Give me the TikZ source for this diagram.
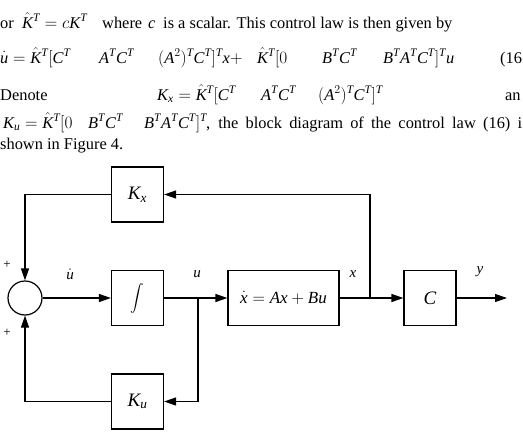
\documentclass[tikz,border=0pt]{standalone}
\usepackage{amsmath}
\usepackage{fontspec}
\setmainfont{Liberation Serif}
\usetikzlibrary{arrows.meta}
\newcommand{\I}[1]{\mathit{#1}}
\newcommand{\Kh}{\hat{\I{K}}}
\newcommand{\Tr}{^{\I{T}}}
\begin{document}
\begin{tikzpicture}[x=1pt,y=-1pt,
  txt/.style={anchor=base west, inner sep=0pt, font=\fontsize{16.4}{19}\selectfont},
  blk/.style={draw, line width=1.2pt, minimum width=52pt, minimum height=55pt, inner sep=0pt, font=\fontsize{19}{21}\selectfont},
  lbl/.style={inner sep=0pt, font=\fontsize{15}{17}\selectfont},
  sig/.style={line width=1.2pt, -{Triangle[length=12pt,width=8pt]}},
  wire/.style={line width=1.2pt}]
\useasboundingbox (0,0) rectangle (523,434);

% text above the figure
\node[txt] (t1a) at (0,28) {or};
\node[txt] (t1b) at (22,28) {$\Kh\Tr = c\I{K}\Tr$};
\node[txt] (t1c) at (102,28) {where};
\node[txt] (t1d) at (148,28) {$\I{c}$};
\node[txt] (t1e) at (163,28) {is a scalar. This control law is then given by};

\node[txt] (t2a) at (0,63) {$\dot{\I u}=\Kh\Tr[\I C\Tr$};
\node[txt] (t2b) at (99,63) {$\I A\Tr \I C\Tr$};
\node[txt] (t2c) at (158,63) {$(\I A^2)\Tr \I C\Tr]\Tr \I x +$};
\node[txt] (t2d) at (257,63) {$\Kh\Tr[0$};
\node[txt] (t2e) at (322,63) {$\I B\Tr \I C\Tr$};
\node[txt] (t2f) at (383,63) {$\I B\Tr \I A\Tr \I C\Tr]\Tr \I u$};
\node[txt] (t2g) at (500,63) {(16};

\node[txt] (t3a) at (0,100) {Denote};
\node[txt] (t3b) at (157,100) {$\I K_{\I x} = \Kh\Tr[\I C\Tr$};
\node[txt] (t3c) at (261,100) {$\I A\Tr \I C\Tr$};
\node[txt] (t3d) at (318,100) {$(\I A^2)\Tr \I C\Tr]\Tr$};
\node[txt] (t3e) at (505,100) {an};

\node[txt] (t4a) at (3,128) {$\I K_{\I u} = \Kh\Tr[0$};
\node[txt] (t4b) at (88,128) {$\I B\Tr \I C\Tr$};
\node[txt] (t4c) at (144,128) {$\I B\Tr \I A\Tr \I C\Tr]\Tr$};
\node[txt] (t4d) at (206,128) {\makebox[316pt][s]{, the block diagram of the control law (16) i}};

\node[txt] (t5a) at (0,149) {shown in Figure 4.};

% block diagram
\node[draw, circle, line width=1.2pt, minimum size=34pt, inner sep=0pt] (sum) at (25,298) {};
\node[blk] (kx) at (137.5,194.5) {$\I K_{\I x}$};
\node[blk, font=\fontsize{10}{12}\selectfont] (int) at (137.5,298) {\scalebox{1.35}{$\displaystyle\int$}};
\node[blk] (ku) at (137.5,401.5) {$\I K_{\I u}$};
\node[blk, minimum width=111pt, font=\fontsize{17}{20}\selectfont] (plant) at (283.5,298) {$\dot{\I x} = \I A\I x + \I B\I u$};
\node[blk] (cc) at (430,298) {$\I C$};

\coordinate (bu) at (198,298);
\coordinate (bx) at (370,298);
\coordinate (yend) at (507,298);

\draw[sig] (sum) -- (int);
\draw[sig] (int) -- (plant);
\draw[sig] (plant) -- (cc);
\draw[sig] (cc) -- (yend);
\draw[sig] (bx) |- (kx.east);
\draw[sig] (bu) |- (ku.east);
\draw[sig] (kx.west) -| (sum.north);
\draw[sig] (ku.west) -| (sum.south);

\node[lbl] (lud) at (70,274) {$\dot{\I u}$};
\node[lbl] (lu) at (197,274) {$\I u$};
\node[lbl] (lx) at (353,274) {$\I x$};
\node[lbl] (ly) at (480,272) {$\I y$};
\node[lbl, font=\fontsize{13}{14}\selectfont] (p1) at (7,265) {+};
\node[lbl, font=\fontsize{13}{14}\selectfont] (p2) at (7,333) {+};
\end{tikzpicture}
\end{document}
